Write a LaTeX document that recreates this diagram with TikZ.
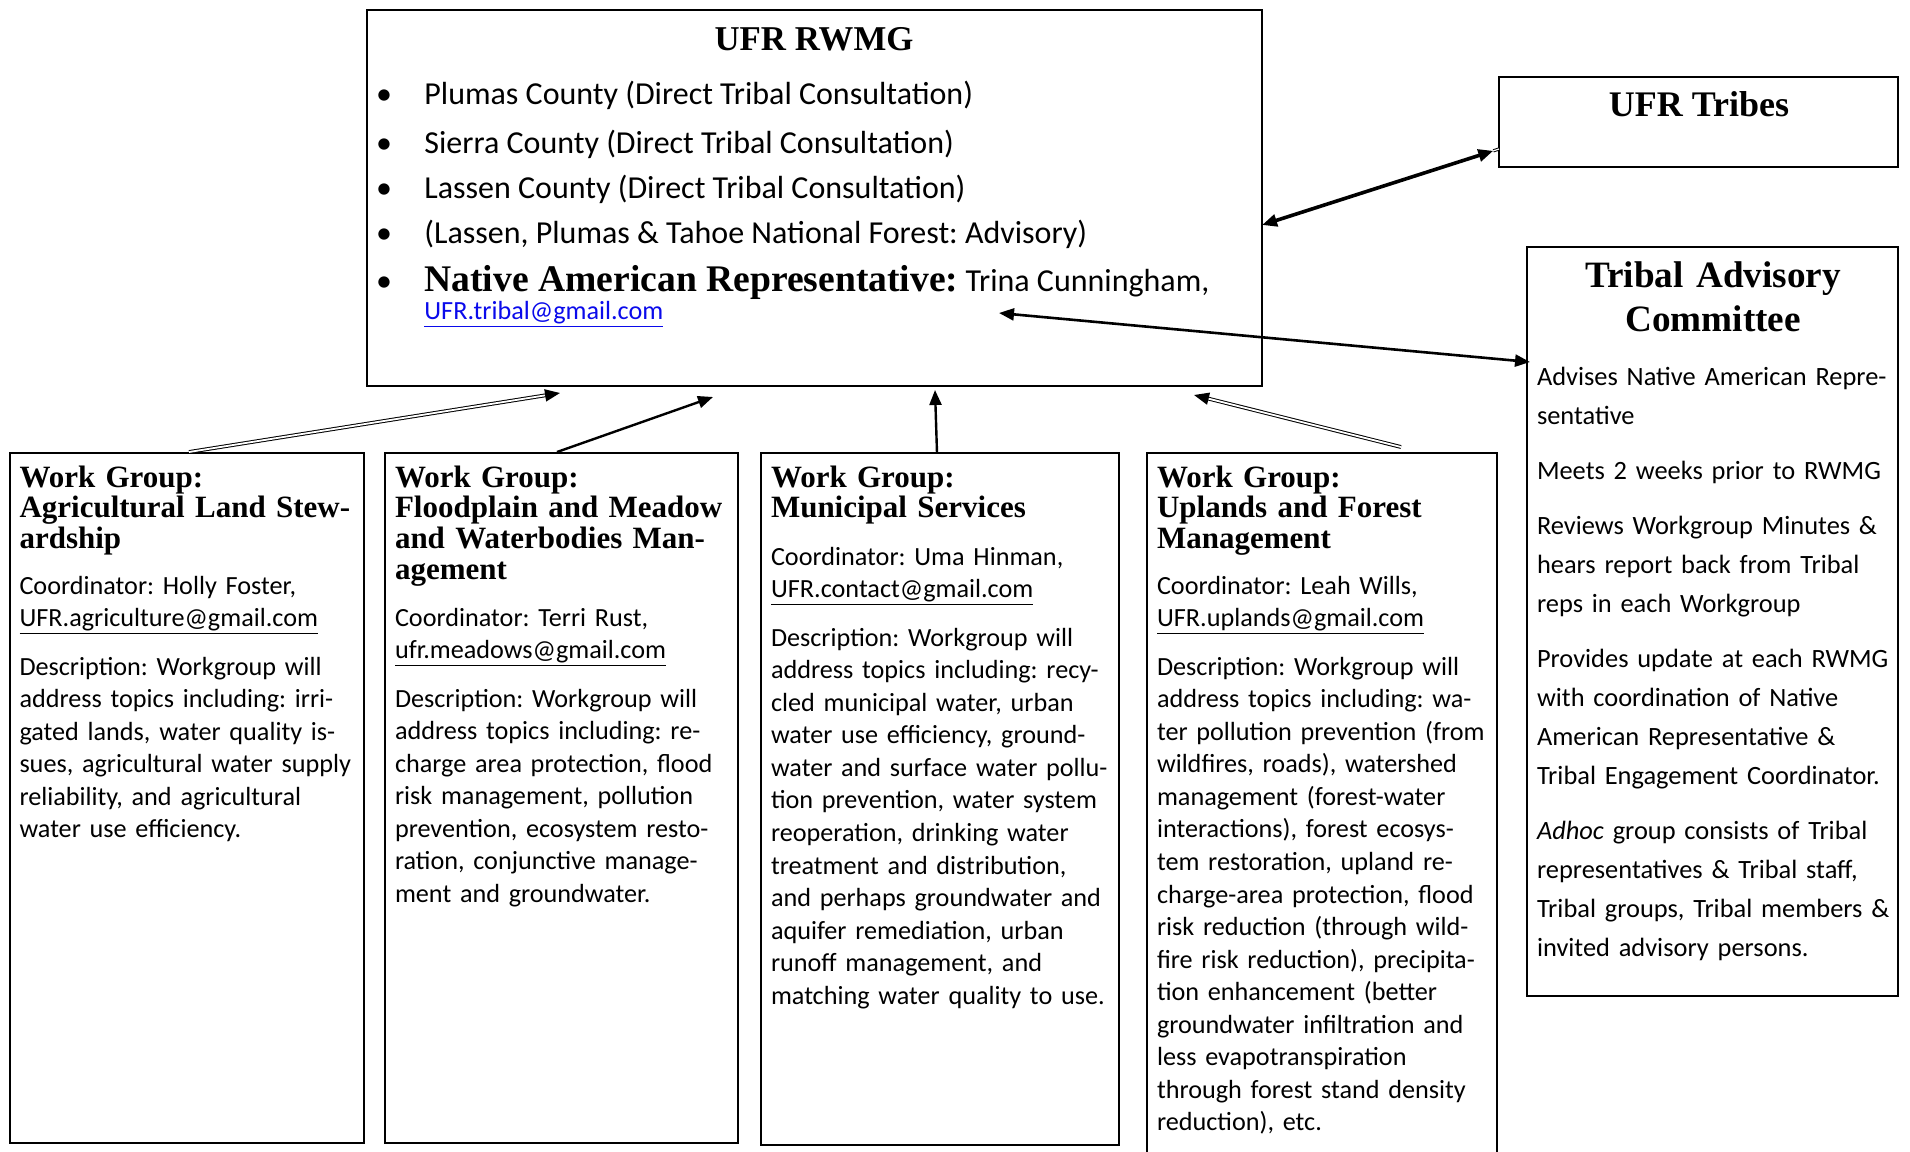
\documentclass[tikz,border=0pt]{standalone}
\usepackage{fontspec}
\setmainfont{Carlito}
\newfontfamily\hdfont{Liberation Serif}
\usetikzlibrary{arrows.meta,calc}
\definecolor{linkblue}{RGB}{10,10,235}
\frenchspacing
\newcommand\bodyfont{\fontsize{13.1}{16.27}\selectfont}
\newcommand\headfont{\hdfont\bfseries\fontsize{15.5}{15.35}\selectfont}
\newcommand\bulfont{\fontsize{16}{18}\selectfont}
\newcommand\pgap{\\[8.1pt]}
\begin{document}
\begin{tikzpicture}[x=0.5pt,y=-0.5pt,
  box/.style={draw,line width=1.3pt,inner sep=0pt,outer sep=0pt,anchor=north west},
  txt/.style={anchor=base west,inner sep=0pt,outer sep=0pt,align=left,text width=#1},
  txt/.default=240pt,
  bul/.style={anchor=base,inner sep=0pt,font=\bulfont},
  bline/.style={anchor=base west,inner sep=0pt,font=\bulfont},
  tip/.style={-{Triangle[length=7.5pt,width=6pt]}},
  tips/.style={{Triangle[length=7.5pt,width=6pt]}-{Triangle[length=7.5pt,width=6pt]}},
  dbl/.style={line width=0.5pt,double,double distance=0.9pt}]
\clip (0,0) rectangle (1910,1151);
\fill[white] (0,0) rectangle (1910,1151);

% boxes
\node[box,minimum width=447.5pt,minimum height=188pt] (rwmg) at (367,10) {};
\node[box,minimum width=199.5pt,minimum height=45pt] (tribes) at (1499,77) {};
\node[box,minimum width=185.5pt,minimum height=374.5pt] (tac) at (1527,247) {};
\node[box,minimum width=177pt,minimum height=345pt] (wg1) at (10,453) {};
\node[box,minimum width=176.5pt,minimum height=345pt] (wg2) at (385,453) {};
\node[box,minimum width=179pt,minimum height=346pt] (wg3) at (761,453) {};
\node[box,minimum width=175pt,minimum height=360pt] (wg4) at (1147,453) {};

% RWMG content
\node[anchor=base,inner sep=0pt,font={\hdfont\bfseries\fontsize{17.4}{20}\selectfont}] (rwt) at (814,50) {UFR RWMG};
\node[bul] (b1) at (384,104.5) {\textbullet};
\node[bline] (l1) at (424,104.5) {Plumas County (Direct Tribal Consultation)};
\node[bul] (b2) at (384,153.5) {\textbullet};
\node[bline] (l2) at (424,153.5) {Sierra County (Direct Tribal Consultation)};
\node[bul] (b3) at (384,198.5) {\textbullet};
\node[bline] (l3) at (424,198.5) {Lassen County (Direct Tribal Consultation)};
\node[bul] (b4) at (384,243.5) {\textbullet};
\node[bline] (l4) at (424,243.5) {(Lassen, Plumas \& Tahoe National Forest: Advisory)};
\node[bul] (b5) at (384,291) {\textbullet};
\node[bline] (l5) at (424,291) {{\hdfont\bfseries\fontsize{18.8}{20}\selectfont Native American Representative:} Trina Cunningham,};
\node[anchor=base west,inner sep=0pt,font=\bodyfont] (em) at (424,319) {\textcolor{linkblue}{\underline{UFR.tribal@gmail.com}}};

% UFR Tribes
\node[anchor=base,inner sep=0pt,font={\hdfont\bfseries\fontsize{18}{20}\selectfont}] (trt) at (1699,116) {UFR Tribes};

% Tribal Advisory Committee
\node[anchor=base,align=center,text width=180pt,inner sep=0pt,font={\hdfont\bfseries\fontsize{18.6}{22}\selectfont}] (tact) at (1713,287) {Tribal Advisory\\Committee};
\node[txt,font={\fontsize{13.2}{19.5}\selectfont}] (tacb) at (1537,385) {Advises Native American Repre-\\sentative\pgap Meets 2 weeks prior to RWMG\pgap Reviews Workgroup Minutes \&\\hears report back from Tribal\\reps in each Workgroup\pgap Provides update at each RWMG\\with coordination of Native\\American Representative \&\\Tribal Engagement Coordinator.\pgap \textit{Adhoc} group consists of Tribal\\representatives \& Tribal staff,\\Tribal groups, Tribal members \&\\invited advisory persons.};

% Work group 1
\node[txt,font=\headfont] (w1h) at (19.5,487) {Work Group:\\Agricultural Land Stew-\\ardship};
\node[txt,font=\bodyfont] (w1b) at (19.5,594) {Coordinator: Holly Foster,\\\underline{UFR.agriculture@gmail.com}\pgap Description: Workgroup will\\address topics including: irri-\\gated lands, water quality is-\\sues, agricultural water supply\\reliability, and agricultural\\water use efficiency.};

% Work group 2
\node[txt,font=\headfont] (w2h) at (395,487) {Work Group:\\Floodplain and Meadow\\and Waterbodies Man-\\agement};
\node[txt,font=\bodyfont] (w2b) at (395,626) {Coordinator: Terri Rust,\\\underline{ufr.meadows@gmail.com}\pgap Description: Workgroup will\\address topics including: re-\\charge area protection, flood\\risk management, pollution\\prevention, ecosystem resto-\\ration, conjunctive manage-\\ment and groundwater.};

% Work group 3
\node[txt,font=\headfont] (w3h) at (771,487) {Work Group:\\Municipal Services};
\node[txt,font=\bodyfont] (w3b) at (771,565) {Coordinator: Uma Hinman,\\\underline{UFR.contact@gmail.com}\pgap Description: Workgroup will\\address topics including: recy-\\cled municipal water, urban\\water use efficiency, ground-\\water and surface water pollu-\\tion prevention, water system\\reoperation, drinking water\\treatment and distribution,\\and perhaps groundwater and\\aquifer remediation, urban\\runoff management, and\\matching water quality to use.};

% Work group 4
\node[txt,font=\headfont] (w4h) at (1157,487) {Work Group:\\Uplands and Forest\\Management};
\node[txt,font=\bodyfont] (w4b) at (1157,594) {Coordinator: Leah Wills,\\\underline{UFR.uplands@gmail.com}\pgap Description: Workgroup will\\address topics including: wa-\\ter pollution prevention (from\\wildfires, roads), watershed\\management (forest-water\\interactions), forest ecosys-\\tem restoration, upland re-\\charge-area protection, flood\\risk reduction (through wild-\\fire risk reduction), precipita-\\tion enhancement (better\\groundwater infiltration and\\less evapotranspiration\\through forest stand density\\reduction), etc.};

% connector end points
\coordinate (a1t) at ($(wg1.north west)+(179,-1)$);
\coordinate (a1h) at ($(rwmg.south west)+(193,7)$);
\coordinate (a2t) at ($(wg2.north west)+(172,-1)$);
\coordinate (a2h) at ($(rwmg.south west)+(346,11)$);
\coordinate (a3t) at ($(wg3.north west)+(176,0)$);
\coordinate (a3h) at ($(rwmg.south west)+(568,4)$);
\coordinate (a4t) at ($(wg4.north west)+(254,-6)$);
\coordinate (a4h) at ($(rwmg.south west)+(827,9)$);
\coordinate (a5r) at ($(rwmg.north east)+(0,215)$);
\coordinate (a5t) at ($(tribes.south west)+(0,-18)$);
\coordinate (a6r) at ($(rwmg.south west)+(632,-73)$);
\coordinate (a6t) at ($(tac.north west)+(3,115)$);

% connectors
\draw[dbl,shorten >=6pt] (a1t) -- (a1h);
\draw[line width=1pt,tip] ($(a1h)!6pt!(a1t)$) -- (a1h);
\draw[line width=1.2pt,tip] (a2t) -- (a2h);
\draw[line width=1.2pt,tip] (a3t) -- (a3h);
\draw[dbl,shorten >=6pt] (a4t) -- (a4h);
\draw[line width=1pt,tip] ($(a4h)!6pt!(a4t)$) -- (a4h);
\draw[line width=1.8pt,tips,shorten >=3pt] (a5r) -- (a5t);
\draw[line width=0.5pt,double,double distance=0.6pt] ($(a5t)!3pt!(a5r)$) -- (a5t);
\draw[line width=1.3pt,tips] (a6r) -- (a6t);
\end{tikzpicture}
\end{document}
